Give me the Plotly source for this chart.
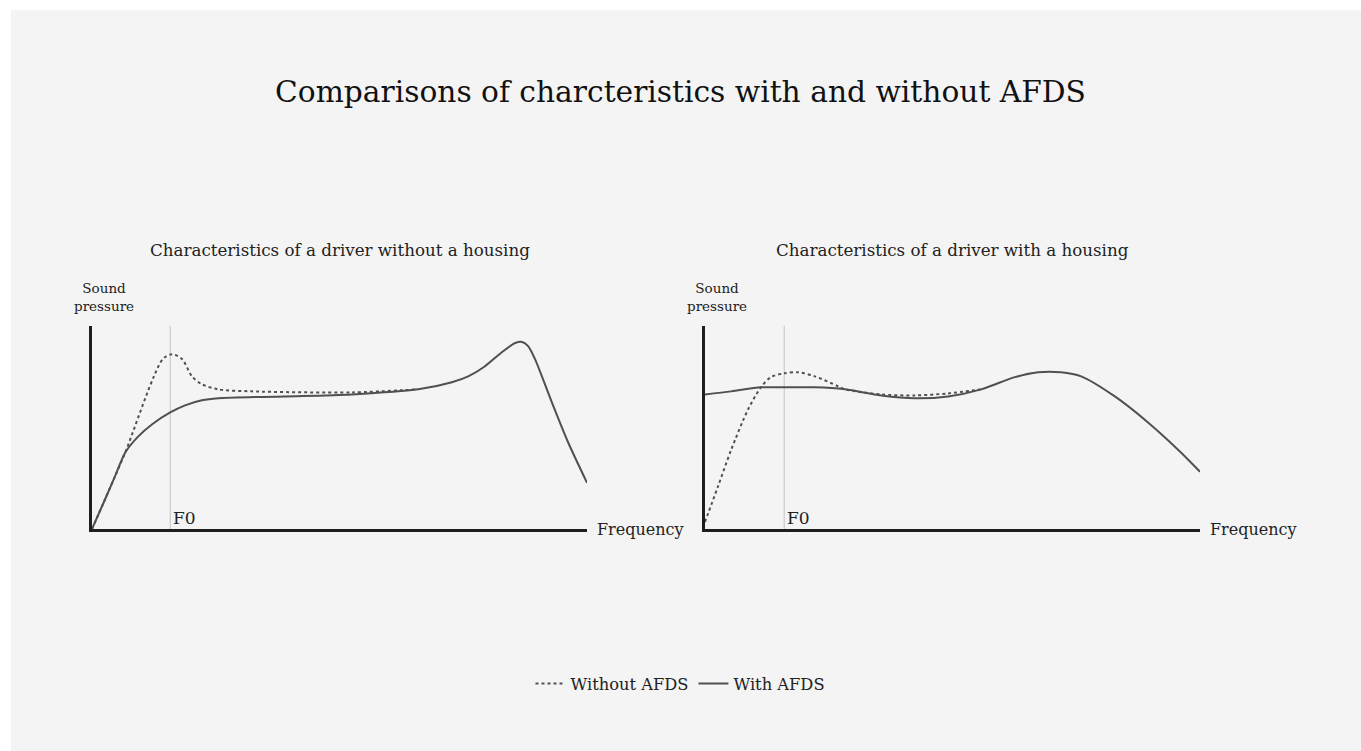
import plotly.graph_objects as go

W, H = 1361, 751

# ---- data (arbitrary units: frequency 0-100, sound pressure 0-100) ----
left_with_x = [0, 2.6, 4.6, 6.7, 9.3, 12.1, 15.8, 18.8, 22.2, 25.5, 39.0, 52.5, 65.9, 72.7, 76.0, 79.4, 82.8, 85.5, 86.9, 88.1, 89.5, 92.9, 96.2, 100]
left_with_y = [0, 14.4, 25.7, 37.6, 45.5, 51.5, 57.4, 60.9, 63.4, 64.4, 65.3, 66.3, 68.8, 72.3, 75.2, 80.2, 87.1, 91.6, 92.1, 90.1, 83.7, 62.4, 42.6, 22.8]

left_without_x = [0, 2.6, 4.6, 6.7, 14.3, 16.2, 18.2, 20.2, 22.2, 25.5, 32.3, 52.5, 65.9]
left_without_y = [0, 14.4, 25.7, 37.6, 83.7, 86.1, 83.7, 75.2, 71.3, 68.8, 67.8, 67.3, 68.8]

right_with_x = [0, 5.3, 11.3, 16.0, 22.2, 28.3, 35.6, 42.4, 49.1, 55.8, 62.6, 67.3, 71.9, 76.0, 82.8, 89.5, 96.2, 100]
right_with_y = [66.3, 67.8, 69.8, 69.8, 69.8, 68.8, 65.8, 64.4, 65.3, 68.8, 74.8, 77.2, 77.2, 75.2, 65.3, 52.5, 37.6, 28.2]

right_without_x = [0, 2.6, 5.3, 8.7, 11.3, 13.3, 16.0, 18.8, 22.2, 26.9, 28.3, 35.6, 42.4, 49.1, 55.8]
right_without_y = [3.5, 20.8, 39.1, 58.9, 69.8, 74.8, 76.7, 77.2, 75.2, 70.3, 68.8, 66.3, 65.8, 66.8, 68.8]

f0_positions = [15.8, 16.0]
subtitles = ["Characteristics of a driver without a housing", "Characteristics of a driver with a housing"]
series_names = ["Without AFDS", "With AFDS"]
title_text = "Comparisons of charcteristics with and without AFDS"

FONT = "DejaVu Serif"
LINE_C = "#505050"
AXIS_C = "#1e1e1e"
TXT_C = "#222222"

fig = go.Figure()

panels = [
    (left_without_x, left_without_y, left_with_x, left_with_y, "x", "y"),
    (right_without_x, right_without_y, right_with_x, right_with_y, "x2", "y2"),
]
for i, (wx, wy, sx, sy, xa, ya) in enumerate(panels):
    fig.add_trace(go.Scatter(x=wx, y=wy, xaxis=xa, yaxis=ya, mode="lines",
                             line=dict(color=LINE_C, width=2, dash="3px,3px", shape="spline", smoothing=0.8),
                             name=series_names[0], showlegend=(i == 0), legendrank=1))
    fig.add_trace(go.Scatter(x=sx, y=sy, xaxis=xa, yaxis=ya, mode="lines",
                             line=dict(color=LINE_C, width=2, shape="spline", smoothing=0.8),
                             name=series_names[1], showlegend=(i == 0), legendrank=2))

# pixel helpers for layout positions
def px(v):
    return v / W

def py(v):
    return 1 - v / H

ydom = [py(529), py(326)]
axis_common = dict(range=[0, 100], showline=True, linecolor=AXIS_C, linewidth=3,
                   showgrid=False, zeroline=False, showticklabels=False, ticks="", fixedrange=True)

fig.update_layout(
    width=W, height=H,
    margin=dict(l=0, r=0, t=0, b=0),
    paper_bgcolor="white",
    plot_bgcolor="rgba(0,0,0,0)",
    font=dict(family=FONT, color=TXT_C),
    title=dict(text=title_text, x=0.5, xanchor="center", y=py(92), yanchor="middle",
               font=dict(family=FONT, size=29.7, color="#111111")),
    xaxis=dict(domain=[px(92), px(587)], anchor="y", **axis_common),
    yaxis=dict(domain=ydom, anchor="x", **axis_common),
    xaxis2=dict(domain=[px(705), px(1200)], anchor="y2", **axis_common),
    yaxis2=dict(domain=ydom, anchor="x2", **axis_common),
    showlegend=True,
    legend=dict(orientation="h", x=0.5, xanchor="center", y=py(684), yanchor="middle",
                font=dict(family=FONT, size=16.3, color=TXT_C), itemwidth=30,
                bgcolor="rgba(0,0,0,0)", traceorder="normal"),
)

# gray backdrop
fig.add_shape(type="rect", xref="paper", yref="paper", x0=px(11), x1=1.0, y0=0, y1=py(10),
              fillcolor="#f4f4f4", line=dict(width=0), layer="below")

annotations = []
for i, (xa, ya) in enumerate([("x", "y"), ("x2", "y2")]):
    f0 = f0_positions[i]
    fig.add_shape(type="line", xref=xa, yref=ya, x0=f0, x1=f0, y0=0, y1=100,
                  line=dict(color="#c4c4c4", width=1), layer="below")
    annotations.append(dict(xref=xa, yref=ya, x=f0, y=0, xanchor="left", yanchor="bottom",
                            yshift=-1, xshift=1, text="F0", showarrow=False,
                            font=dict(family=FONT, size=17, color=TXT_C)))
    annotations.append(dict(xref=xa, yref="paper", x=50, y=py(250), xanchor="center", yanchor="middle",
                            text=subtitles[i], showarrow=False,
                            font=dict(family=FONT, size=16.7, color=TXT_C)))
    annotations.append(dict(xref=xa, yref=ya, x=100, y=0, xanchor="left", yanchor="middle",
                            xshift=8, text="Frequency", showarrow=False,
                            font=dict(family=FONT, size=16, color=TXT_C)))
    annotations.append(dict(xref=xa, yref="paper", x=0, y=py(297), xanchor="center", yanchor="middle",
                            xshift=12, text="Sound<br>pressure", showarrow=False,
                            font=dict(family=FONT, size=13.5, color=TXT_C)))
fig.update_layout(annotations=annotations)

fig.write_html("out.html", config={"displayModeBar": False},
               post_script="document.body.style.margin='0';")
